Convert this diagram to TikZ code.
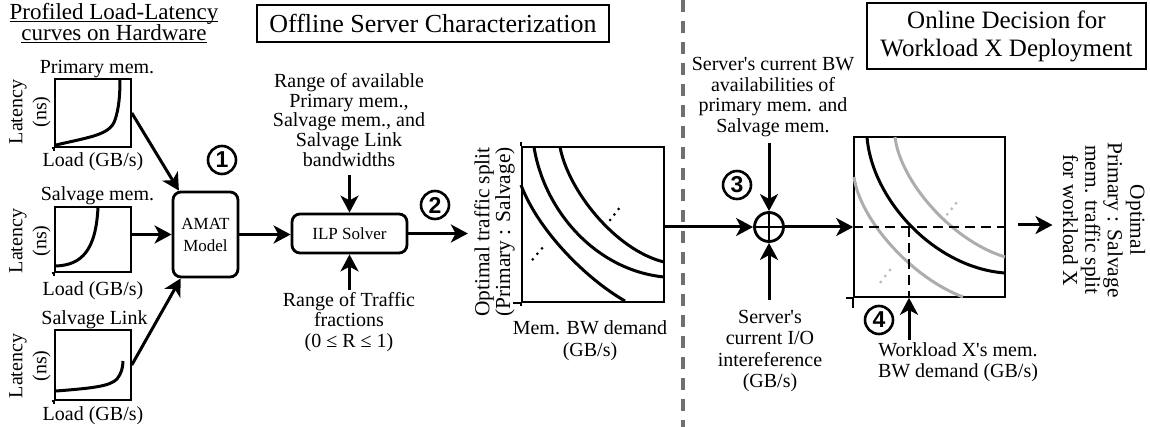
\documentclass[tikz,border=0pt]{standalone}
\usepackage{fontspec}
\setmainfont{Liberation Serif}
\newfontfamily\numfont{Liberation Sans}
\usetikzlibrary{arrows.meta,calc}
\definecolor{divgray}{HTML}{707070}
\definecolor{lightcurve}{HTML}{ADADAD}
\definecolor{lightdot}{HTML}{BDBDBD}
% underline that sits close to the baseline
\newcommand\hdul[1]{\setbox0\hbox{#1}\rlap{\rule[-1.2pt]{\wd0}{0.6pt}}\box0}

\begin{document}
\begin{tikzpicture}[x=0.5pt,y=-0.5pt,
  txt/.style={align=center,inner sep=1pt,font=\fontsize{10}{10.2}\selectfont},
  lbl/.style={inner sep=0pt,font=\fontsize{10}{12}\selectfont},
  ylbl/.style={rotate=90,align=center,inner sep=0pt,font=\fontsize{10}{12}\selectfont},
  chartbox/.style={draw,line width=0.8pt,inner sep=0pt},
  axln/.style={line width=0.8pt},
  crv/.style={line width=1.5pt},
  gcrv/.style={line width=1.5pt,draw=lightcurve},
  procbox/.style={draw,rounded corners=4pt,line width=1.4pt,inner sep=0pt,align=center,font=\fontsize{8.5}{11}\selectfont},
  titlebox/.style={draw,line width=1.3pt,inner sep=0pt,align=center},
  numc/.style={circle,draw,line width=1.3pt,minimum size=14pt,inner sep=0pt,font=\numfont\bfseries\fontsize{11.5}{11.5}\selectfont},
  arr/.style={line width=1.5pt,-{Stealth[length=8.5pt,width=9pt,inset=2.4pt]}},
  dsh/.style={line width=0.7pt,dash pattern=on 5pt off 3pt},
  divider/.style={draw=divgray,line width=2pt,dash pattern=on 6pt off 4.5pt}
]
\useasboundingbox (0,0) rectangle (1150,427);

% ---------- profiled load-latency curves ----------
\node[align=center,inner sep=0pt,font=\fontsize{11.5}{10.5}\selectfont] (hdr) at (114,23)
  {\hdul{Profiled Load-Latency}\\\hdul{curves on Hardware}};

\node[chartbox,minimum width=38pt,minimum height=34pt] (c1) at (93,113) {};
\node[lbl,anchor=base] (c1t) at (97,74) {Primary mem.};
\node[lbl,anchor=base] (c1x) at (93,167) {Load (GB/s)};
\node[ylbl] (c1y) at (30,112) {Latency\\(ns)};
\draw[axln] (c1.south west) -- ++(0,3) (c1.south west) -- ++(-2,0);
\draw[crv] (56,145) .. controls (90,137) and (110,135) .. (115,120)
           .. controls (119,108) and (120,95) .. (120,79);

\node[chartbox,minimum width=38pt,minimum height=32.5pt] (c2) at (93,239.5) {};
\node[lbl,anchor=base] (c2t) at (97.5,201) {Salvage mem.};
\node[lbl,anchor=base] (c2x) at (93,295) {Load (GB/s)};
\node[ylbl] (c2y) at (30,241) {Latency\\(ns)};
\draw[axln] (c2.south west) -- ++(0,3) (c2.south west) -- ++(-2,0);
\draw[crv] (56,266) .. controls (82,265) and (96,250) .. (98,207);

\node[chartbox,minimum width=38pt,minimum height=35pt] (c3) at (93,365) {};
\node[lbl,anchor=base] (c3t) at (94.5,324) {Salvage Link};
\node[lbl,anchor=base] (c3x) at (93,420) {Load (GB/s)};
\node[ylbl] (c3y) at (30,366) {Latency\\(ns)};
\draw[axln] (c3.south west) -- ++(0,3) (c3.south west) -- ++(-2,0);
\draw[crv] (56,391) .. controls (95,388) and (110,386) .. (117,379)
           .. controls (121,374) and (123,368) .. (123,361);

% ---------- offline characterization ----------
\node[titlebox,minimum width=176pt,minimum height=18.5pt,font=\fontsize{13}{14}\selectfont] (t1) at (433,23.5)
  {Offline Server Characterization};

\node[procbox,minimum width=32.5pt,minimum height=42.5pt] (amat) at (205.5,234.5) {AMAT\\Model};
\node[numc] (n1) at (222,160) {1};

\draw[arr] (c1.east) -- (amat);
\draw[arr] (amat.west -| c2.east) -- (amat.west);
\draw[arr] (c3.east) -- (amat);

\node[procbox,minimum width=57.5pt,minimum height=19.5pt] (ilp) at (349.5,233.5) {ILP Solver};
\draw[arr] (amat.east) -- (amat.east -| ilp.west);

\node[txt,font=\fontsize{10}{9.9}\selectfont] (rngA) at (349,120)
  {Range of available\\Primary mem.,\\Salvage mem., and\\Salvage Link\\bandwidths};
\node[txt] (rngB) at (349,322) {Range of Traffic\\fractions\\(0 ≤ R ≤ 1)};
\draw[arr,shorten <=3pt] (rngA.south -| ilp.north) -- (ilp.north);
\draw[arr] (rngB.north -| ilp.south) -- (ilp.south);
\node[numc] (n2) at (435,205) {2};

\node[rotate=90,align=center,inner sep=3pt,font=\fontsize{10.7}{10.4}\selectfont] (optlab) at (494.5,232)
  {Optimal traffic split\\(Primary : Salvage)};
\draw[arr] (ilp.east) -- (ilp.east -| optlab.north);

\node[chartbox,minimum width=71pt,minimum height=77.5pt] (c4) at (593,224.5) {};
\draw[axln] (c4.south west) -- ++(-8,0) (c4.south west) -- ++(0,3) (c4.north west) -- ++(0,-4);
\draw[crv] (521,185) .. controls (538,230) and (585,278) .. (625,301);
\draw[crv] (534,147) .. controls (544,210) and (595,270) .. (664,277);
\draw[crv] (560,147) .. controls (568,190) and (615,250) .. (664,262);
\foreach \p in {(532.7,259.3),(537.3,253.8),(542,248.3),(610,220),(614.3,214.5),(618.7,209)}
  \fill \p circle [radius=0.75pt];
\node[txt,font=\fontsize{10}{11}\selectfont] (c4x) at (590,341) {Mem. BW demand\\(GB/s)};

% ---------- online decision ----------
\node[titlebox,minimum width=139.5pt,minimum height=33pt,font=\fontsize{12.5}{14}\selectfont] (t2) at (1006.5,36)
  {Online Decision for\\Workload X Deployment};

\node[circle,draw,line width=1.4pt,minimum size=14.5pt,inner sep=0pt] (plus) at (769,227) {};
\draw[line width=1.4pt] (plus.north) -- (plus.south) (plus.west) -- (plus.east);
\node[numc] (n3) at (737,185) {3};

\node[txt,font=\fontsize{10}{10.3}\selectfont] (srvA) at (773,97)
  {Server\textquotesingle s current BW\\availabilities of\\primary mem. and\\Salvage mem.};
\node[txt,inner sep=5pt,font=\fontsize{10}{10.6}\selectfont] (srvB) at (770,351)
  {Server\textquotesingle s\\current I/O\\intereference\\(GB/s)};
\draw[arr,shorten <=2pt] (plus |- srvA.south) -- (plus.north);
\draw[arr] (plus |- srvB.north) -- (plus.south);
\draw[arr] (plus.west -| c4.east) -- (plus.west);

\node[chartbox,minimum width=75.5pt,minimum height=80pt] (c5) at (929.5,217) {};
\draw[axln] (c5.south west) -- ++(-7,0) (c5.south west) -- ++(0,10);
\draw[gcrv] (854,177) .. controls (860,220) and (912,278) .. (963,297);
\draw[gcrv] (895,137) .. controls (900,180) and (950,240) .. (1005,257);
\draw[crv] (867,137) .. controls (872,200) and (935,268) .. (1005,273);
\foreach \p in {(947.3,214.3),(951.7,208.8),(956,203.3),(880.7,282),(885.3,276),(890,270)}
  \fill[lightdot] \p circle [radius=0.8pt];
\draw[arr] (plus.east) -- (plus.east -| c5.west);

\coordinate (wlin) at (909,340);
\draw[dsh] (c5.west |- plus) -- (c5.east |- plus);
\draw[dsh] (wlin |- plus) -- (wlin |- c5.south);
\draw[arr] (wlin) -- (wlin |- c5.south);
\node[numc] (n4) at (879,320) {4};
\node[txt,font=\fontsize{10}{10.8}\selectfont] (wl) at (958,362)
  {Workload X\textquotesingle s mem.\\BW demand (GB/s)};

\node[rotate=-90,align=center,inner sep=5pt,font=\fontsize{10.7}{11.2}\selectfont] (outlab) at (1104,220)
  {Optimal\\Primary : Salvage\\mem. traffic split\\for workload X};
\draw[arr] ($(c5.east |- plus)+(12,-2)$) -- (outlab.south |- {$(plus)+(0,-2)$});

% offline / online divider
\draw[divider] (683,0) -- (683,427);
\end{tikzpicture}
\end{document}
